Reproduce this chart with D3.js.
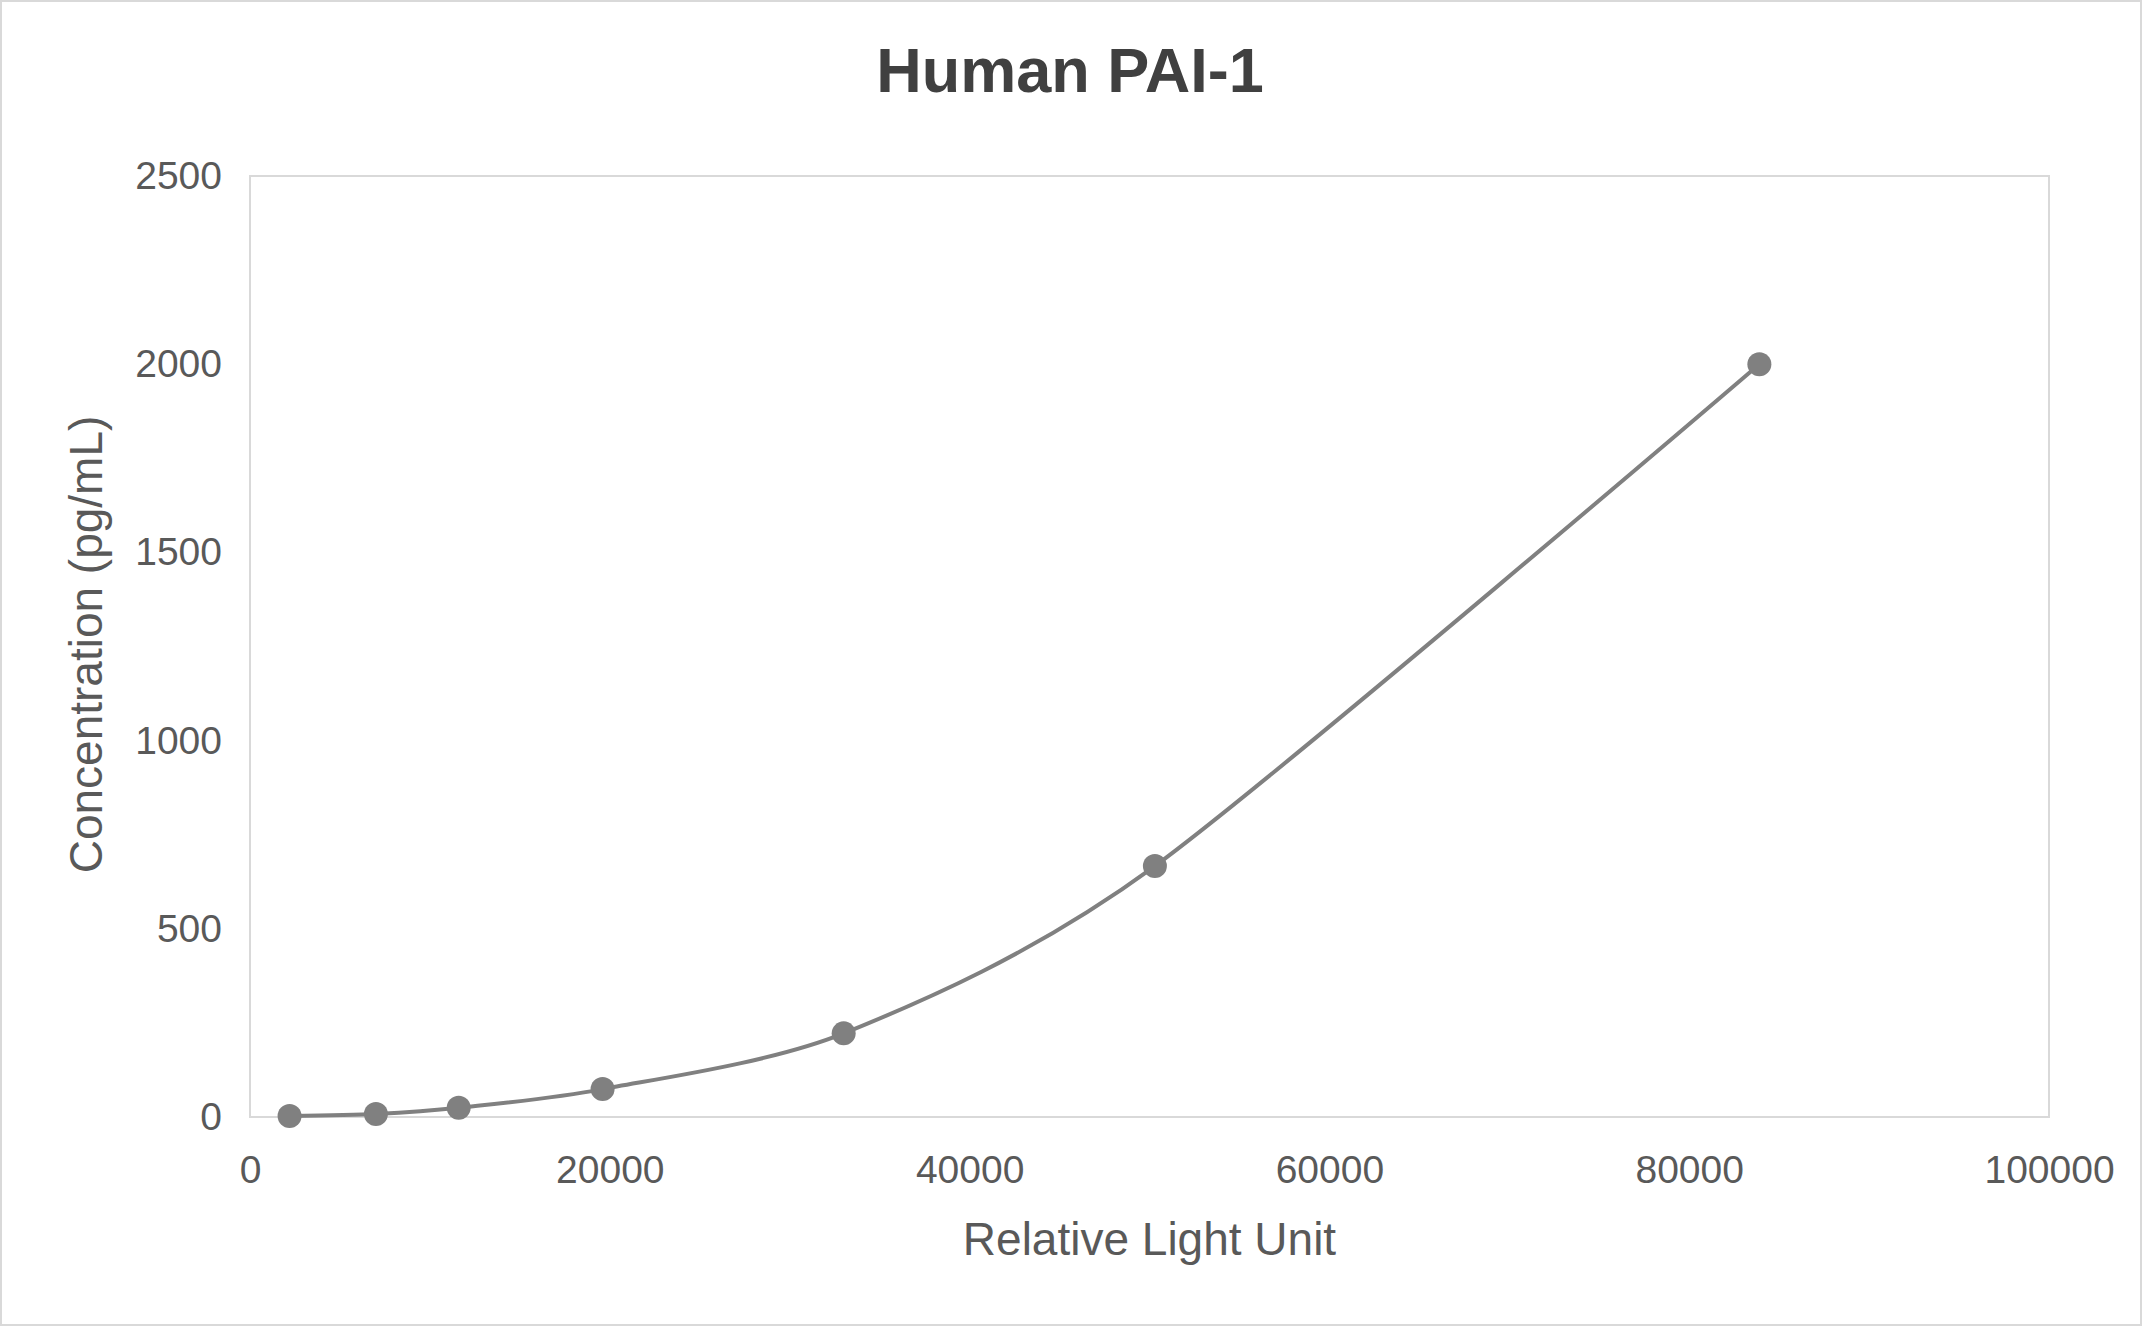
<!DOCTYPE html>
<html><head><meta charset="utf-8">
<script src="https://cdn.jsdelivr.net/npm/d3@7"></script>
<style>body{margin:0;background:#fff}svg{display:block}</style>
</head><body>
<script>
const rlu = [2200, 7000, 11600, 19600, 33000, 50300, 83900];
const conc = [2.74, 8.23, 24.7, 74.1, 222.2, 666.7, 2000];
const xTicks = [0, 20000, 40000, 60000, 80000, 100000];
const yTicks = [0, 500, 1000, 1500, 2000, 2500];
const W = 2142, H = 1326;
const m = {l: 250, r: 2049, t: 176, b: 1117};
const svg = d3.select("body").append("svg").attr("width", W).attr("height", H)
  .style("font-family", "'Liberation Sans', Arial, sans-serif");
svg.append("rect").attr("x", 1).attr("y", 1).attr("width", W - 2).attr("height", H - 2)
  .attr("fill", "#fff").attr("stroke", "#d9d9d9").attr("stroke-width", 2);
const x = d3.scaleLinear().domain([0, 100000]).range([m.l, m.r]);
const y = d3.scaleLinear().domain([0, 2500]).range([m.b, m.t]);
svg.append("rect").attr("x", m.l).attr("y", m.t).attr("width", m.r - m.l).attr("height", m.b - m.t)
  .attr("fill", "none").attr("stroke", "#d9d9d9").attr("stroke-width", 2);
const xa = svg.append("g").attr("transform", `translate(0,${m.b})`)
  .call(d3.axisBottom(x).tickValues(xTicks).tickFormat(d3.format("d")).tickSize(0).tickPadding(38));
const ya = svg.append("g").attr("transform", `translate(${m.l},0)`)
  .call(d3.axisLeft(y).tickValues(yTicks).tickFormat(d3.format("d")).tickSize(0).tickPadding(28));
[xa, ya].forEach(a => {
  a.select(".domain").remove();
  a.selectAll("text").attr("fill", "#595959").style("font-size", "39px").style("font-family", "'Liberation Sans', Arial, sans-serif");
});
const pts = rlu.map((v, i) => [x(v), y(conc[i])]);
svg.append("path").attr("d", d3.line().curve(d3.curveCardinal.tension(0.2))(pts))
  .attr("fill", "none").attr("stroke", "#808080").attr("stroke-width", 4);
svg.selectAll("circle.p").data(pts).enter().append("circle")
  .attr("cx", d => d[0]).attr("cy", d => d[1]).attr("r", 12).attr("fill", "#808080");
svg.append("text").attr("x", 1070).attr("y", 92).attr("text-anchor", "middle")
  .attr("fill", "#404040").style("font-weight", "bold").style("font-size", "63px").text("Human PAI-1");
svg.append("text").attr("x", (m.l + m.r) / 2).attr("y", 1255).attr("text-anchor", "middle")
  .attr("fill", "#595959").style("font-size", "46px").text("Relative Light Unit");
svg.append("text").attr("transform", `translate(102,${(m.t + m.b) / 2 - 2}) rotate(-90)`).attr("text-anchor", "middle")
  .attr("fill", "#595959").style("font-size", "46px").text("Concentration (pg/mL)");
</script>
</body></html>
